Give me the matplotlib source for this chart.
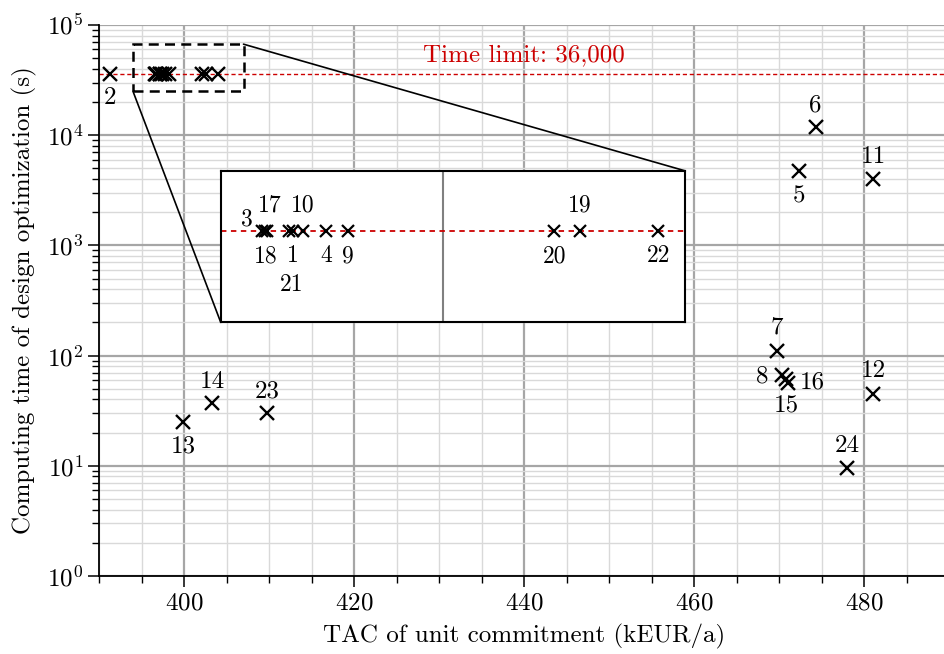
import matplotlib
matplotlib.use('Agg')
import matplotlib.pyplot as plt
from matplotlib.patches import Rectangle, ConnectionPatch
from matplotlib.ticker import LogLocator, MultipleLocator, NullFormatter
import numpy as np

plt.rcParams['font.family'] = 'serif'
plt.rcParams['font.serif'] = ['cmr10']
plt.rcParams['mathtext.fontset'] = 'cm'
plt.rcParams['axes.unicode_minus'] = False
plt.rcParams['axes.formatter.use_mathtext'] = True

# case number, TAC of unit commitment (kEUR/a), computing time (s)
case_ids = [1, 2, 3, 4, 5, 6, 7, 8, 9, 10, 11, 12,
            13, 14, 15, 16, 17, 18, 19, 20, 21, 22, 23, 24]
tac = [397.2, 391.3, 396.62, 397.81, 472.4, 474.3, 469.8, 470.4, 398.22, 397.38, 481.1, 481.1,
       399.9, 403.3, 471.1, 470.8, 396.72, 396.68, 402.54, 402.07, 397.12, 404.01, 409.8, 478.0]
comp_time = [36000, 36000, 36000, 36000, 4760, 11900, 111, 67, 36000, 36000, 3980, 44.5,
             25.1, 36.9, 56, 61, 36000, 36000, 36000, 36000, 36000, 36000, 29.9, 9.5]
time_limit = 36000

# label offsets in pixels (main plot / inset)
main_off = {2: (0, -24), 13: (0, -25), 14: (0, 21), 23: (0, 22), 6: (0, 21), 5: (0, -26),
            11: (0, 22), 7: (0, 23), 8: (-20, -2), 16: (27, -3), 15: (-2, -22), 12: (0, 23), 24: (0, 22)}
ins_off = {3: (-15, 12), 17: (2, 26), 18: (1, -25), 10: (0, 26), 1: (0, -25), 21: (3, -54),
           4: (0, -25), 9: (0, -25), 20: (0, -25), 19: (0, 26), 22: (0, -25)}

red = '#cc0000'
fig = plt.figure(figsize=(9.44, 6.54), dpi=100)
ax = fig.add_axes([99/944, 78/654, 850/944, 551/654])
ax.set_yscale('log')
ax.set_xlim(390, 490)
ax.set_ylim(1, 1e5)
ax.xaxis.set_major_locator(MultipleLocator(20))
ax.xaxis.set_minor_locator(MultipleLocator(5))
ax.yaxis.set_major_locator(LogLocator(base=10, numticks=10))
ax.yaxis.set_minor_locator(LogLocator(base=10, subs=np.arange(2, 10), numticks=20))
ax.yaxis.set_minor_formatter(NullFormatter())
ax.grid(which='major', color='#a6a6a6', lw=1.6)
ax.grid(which='minor', color='#d9d9d9', lw=1.0)
ax.set_axisbelow(True)
for s in ['top', 'right']:
    ax.spines[s].set_visible(False)
for s in ['left', 'bottom']:
    ax.spines[s].set_linewidth(1.3)
ax.tick_params(which='major', length=8, width=1.1, labelsize=18)
ax.tick_params(which='minor', length=5, width=1.0)
ax.set_xlabel('TAC of unit commitment (kEUR/a)', fontsize=18, labelpad=7)
ax.set_ylabel('Computing time of design optimization (s)', fontsize=18, labelpad=7)

ax.axhline(time_limit, color=red, ls=(0, (3, 2)), lw=1.0, zorder=2)
ax.annotate('Time limit: 36,000', (440, time_limit), xytext=(0, 8), textcoords='offset pixels',
            ha='center', va='bottom', color=red, fontsize=18)

ax.plot(tac, comp_time, ls='none', marker='x', ms=10, mew=1.7, color='black', zorder=5)
for cid, x, y in zip(case_ids, tac, comp_time):
    if cid in main_off:
        ax.annotate(str(cid), (x, y), xytext=main_off[cid], textcoords='offset pixels',
                    ha='center', va='center', fontsize=18)

# zoom box and inset
ax.add_patch(Rectangle((394, 25000), 13, 42000, fill=False, ec='black', lw=1.8,
                       ls=(0, (4, 2.5)), zorder=6))
axins = ax.inset_axes([0.1432, 0.4604, 0.5459, 0.2751])
axins.set_zorder(7)
axins.set_xlim(395.85, 404.5)
axins.set_ylim(30000, 40000)
axins.set_xticks([])
axins.set_yticks([])
for s in axins.spines.values():
    s.set_linewidth(1.5)
axins.axvline(400, color='#808080', lw=1.5)
axins.axhline(time_limit, color=red, ls=(0, (3, 2.5)), lw=1.3)
axins.plot(tac, comp_time, ls='none', marker='x', ms=8.5, mew=1.6, color='black', zorder=5)
for cid, x, y in zip(case_ids, tac, comp_time):
    if cid in ins_off:
        axins.annotate(str(cid), (x, y), xytext=ins_off[cid], textcoords='offset pixels',
                       ha='center', va='center', fontsize=17)

for xa, ya, xb, yb in [(407, 67000, 1, 1), (394, 25000, 0, 0)]:
    con = ConnectionPatch(xyA=(xa, ya), coordsA=ax.transData, xyB=(xb, yb), coordsB=axins.transAxes,
                          color='black', lw=1.2, zorder=6)
    fig.add_artist(con)

fig.savefig('out.png', dpi=100)
